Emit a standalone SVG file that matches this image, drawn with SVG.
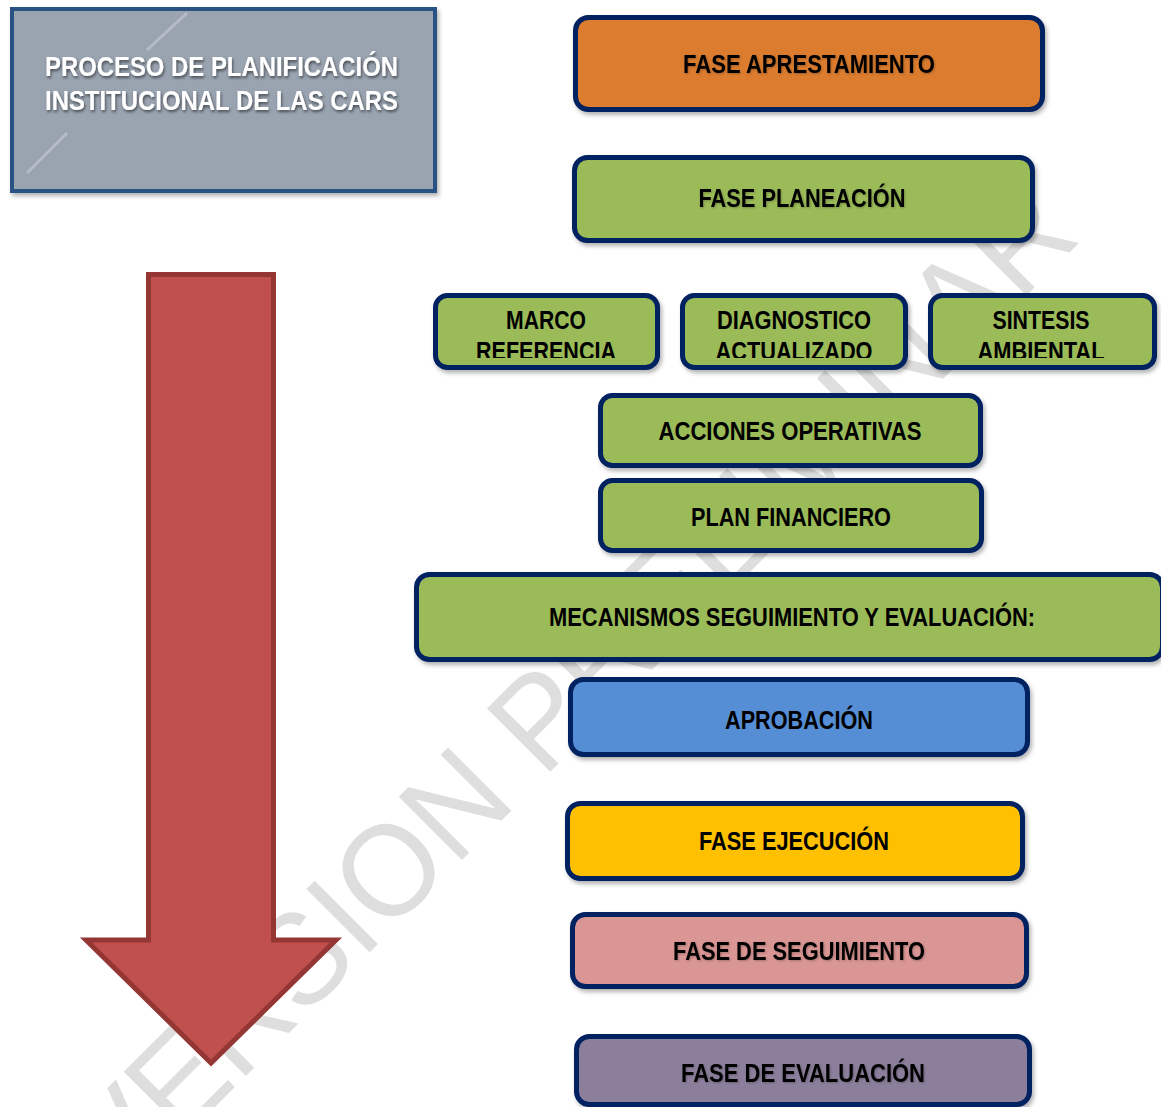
<svg xmlns="http://www.w3.org/2000/svg" width="1161" height="1107" viewBox="0 0 1161 1107">
<defs>
<style>
.box { stroke:#002060; stroke-width:5; }
.lbl { font-family:"Liberation Sans Narrow","Liberation Sans",Arial,sans-serif; font-weight:bold; font-size:25px; fill:#000; text-anchor:middle; }
.title { font-family:"Liberation Sans Narrow","Liberation Sans",Arial,sans-serif; font-weight:bold; font-size:28px; fill:#fff; }
.orange { fill:#DB7B2E; }
.green { fill:#9BBB59; }
.blue { fill:#558ED5; }
.yellow { fill:#FFC000; }
.pink { fill:#DA9694; }
.purple { fill:#8C7F9C; }
</style>
<filter id="sh" x="-10%" y="-10%" width="120%" height="130%">
<feDropShadow dx="2" dy="3" stdDeviation="2" flood-color="#000" flood-opacity="0.3"/>
</filter>
<filter id="tsh" x="-5%" y="-30%" width="110%" height="160%">
<feDropShadow dx="1" dy="2" stdDeviation="1.5" flood-color="#000" flood-opacity="0.55"/>
</filter>
<filter id="lsh" x="-5%" y="-30%" width="110%" height="160%">
<feDropShadow dx="1" dy="1" stdDeviation="1" flood-color="#000" flood-opacity="0.25"/>
</filter>
<clipPath id="clipSmall"><rect x="430" y="296" width="731" height="62"/></clipPath>
</defs>
<rect width="1161" height="1107" fill="#fff"/>

<g id="watermark">
<text transform="translate(550,772) rotate(-45)" x="-607" y="0" font-family="Liberation Sans, Arial, sans-serif" font-size="130" textLength="1361" lengthAdjust="spacingAndGlyphs" fill="#dedede">VERSION PRELIMINAR</text>
</g>

<g id="title">
<rect x="12" y="9" width="423" height="182" fill="#9AA4B1" stroke="#2A5183" stroke-width="4" filter="url(#sh)"/>
<line x1="27" y1="173" x2="67" y2="133" stroke="#b5bcc6" stroke-width="3"/>
<line x1="147" y1="50" x2="187" y2="13" stroke="#b5bcc6" stroke-width="3"/>
<g filter="url(#tsh)">
<text class="title" x="45" y="76" textLength="353" lengthAdjust="spacingAndGlyphs">PROCESO DE PLANIFICACIÓN</text>
<text class="title" x="45" y="110" textLength="353" lengthAdjust="spacingAndGlyphs">INSTITUCIONAL DE LAS CARS</text>
</g>
</g>

<g id="connectors">
<polygon id="flow-arrow" points="148.5,274.5 273.5,274.5 273.5,940 336,940 211,1063 86,940 148.5,940" fill="#C0504D" stroke="#943634" stroke-width="5" stroke-linejoin="miter"/>
</g>

<g id="n1">
<rect class="box orange" x="575.5" y="17.5" width="467" height="92" rx="13" filter="url(#sh)"/>
<text class="lbl" x="809" y="73" textLength="252" lengthAdjust="spacingAndGlyphs" filter="url(#lsh)">FASE APRESTAMIENTO</text>
</g>
<g id="n2">
<rect class="box green" x="574.5" y="157.5" width="458" height="83" rx="13" filter="url(#sh)"/>
<text class="lbl" x="802" y="207" textLength="207" lengthAdjust="spacingAndGlyphs" filter="url(#lsh)">FASE PLANEACIÓN</text>
</g>
<g id="n3">
<rect class="box green" x="435.5" y="295.5" width="222" height="72" rx="12" filter="url(#sh)"/>
<g clip-path="url(#clipSmall)">
<text class="lbl" x="546" y="329" textLength="80" lengthAdjust="spacingAndGlyphs">MARCO</text>
<text class="lbl" x="546" y="360" textLength="140" lengthAdjust="spacingAndGlyphs">REFERENCIA</text>
</g>
</g>
<g id="n4">
<rect class="box green" x="682.5" y="295.5" width="223" height="72" rx="12" filter="url(#sh)"/>
<g clip-path="url(#clipSmall)">
<text class="lbl" x="794" y="329" textLength="154" lengthAdjust="spacingAndGlyphs">DIAGNOSTICO</text>
<text class="lbl" x="794" y="360" textLength="157" lengthAdjust="spacingAndGlyphs">ACTUALIZADO</text>
</g>
</g>
<g id="n5">
<rect class="box green" x="930.5" y="295.5" width="224" height="72" rx="12" filter="url(#sh)"/>
<g clip-path="url(#clipSmall)">
<text class="lbl" x="1041" y="329" textLength="97" lengthAdjust="spacingAndGlyphs">SINTESIS</text>
<text class="lbl" x="1041" y="360" textLength="127" lengthAdjust="spacingAndGlyphs">AMBIENTAL</text>
</g>
</g>
<g id="n6">
<rect class="box green" x="600.5" y="395.5" width="380" height="70" rx="12" filter="url(#sh)"/>
<text class="lbl" x="790" y="440" textLength="263" lengthAdjust="spacingAndGlyphs">ACCIONES OPERATIVAS</text>
</g>
<g id="n7">
<rect class="box green" x="600.5" y="480.5" width="381" height="70" rx="12" filter="url(#sh)"/>
<text class="lbl" x="791" y="526" textLength="200" lengthAdjust="spacingAndGlyphs">PLAN FINANCIERO</text>
</g>
<g id="n8">
<rect class="box green" x="416.5" y="574.5" width="746" height="85" rx="13" filter="url(#sh)"/>
<text class="lbl" x="792" y="626" textLength="486" lengthAdjust="spacingAndGlyphs">MECANISMOS SEGUIMIENTO Y EVALUACIÓN:</text>
</g>
<g id="n9">
<rect class="box blue" x="570.5" y="679.5" width="457" height="75" rx="13" filter="url(#sh)"/>
<text class="lbl" x="799" y="729" textLength="148" lengthAdjust="spacingAndGlyphs">APROBACIÓN</text>
</g>
<g id="n10">
<rect class="box yellow" x="567.5" y="803.5" width="455" height="75" rx="13" filter="url(#sh)"/>
<text class="lbl" x="794" y="850" textLength="190" lengthAdjust="spacingAndGlyphs">FASE EJECUCIÓN</text>
</g>
<g id="n11">
<rect class="box pink" x="572.5" y="914.5" width="454" height="72" rx="13" filter="url(#sh)"/>
<text class="lbl" x="799" y="960" textLength="252" lengthAdjust="spacingAndGlyphs" filter="url(#lsh)">FASE DE SEGUIMIENTO</text>
</g>
<g id="n12">
<rect class="box purple" x="576.5" y="1036.5" width="453" height="68" rx="13" filter="url(#sh)"/>
<text class="lbl" x="803" y="1082" textLength="244" lengthAdjust="spacingAndGlyphs" filter="url(#lsh)">FASE DE EVALUACIÓN</text>
</g>
</svg>
